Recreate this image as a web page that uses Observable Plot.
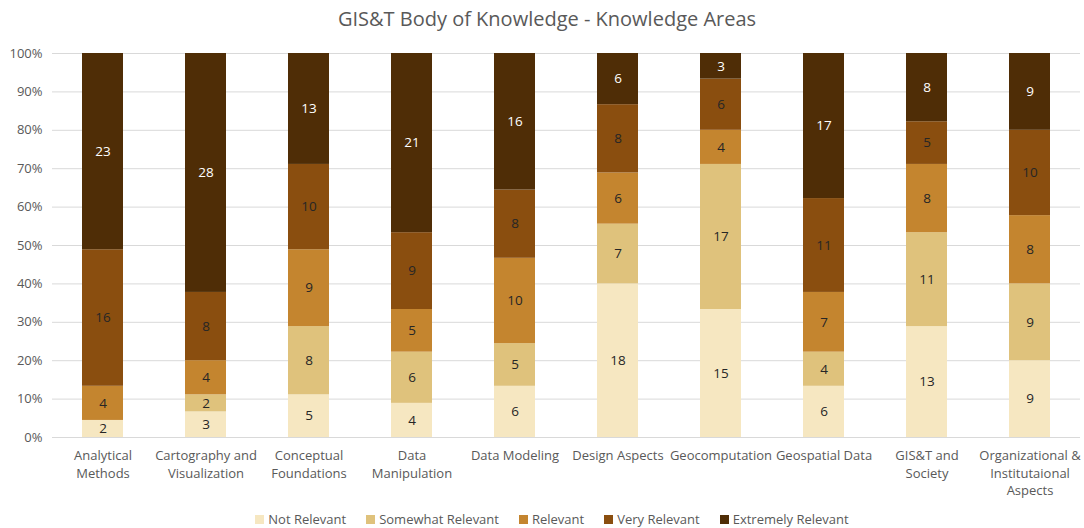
<!DOCTYPE html>
<html>
<head>
<meta charset="utf-8">
<script src="https://cdn.jsdelivr.net/npm/d3@7"></script>
<script src="https://cdn.jsdelivr.net/npm/@observablehq/plot@0.6"></script>
<style>
  html, body { margin: 0; padding: 0; background: #fff; }
  body { width: 1084px; height: 528px; overflow: hidden; font-family: "Open Sans", Lato, sans-serif; }
  #title { height: 40px; line-height: 38px; text-align: center; font-size: 20px; color: #595959; padding-left: 10px; }
  #legend { display: flex; justify-content: center; gap: 20px; font-size: 13px; line-height: 15px; color: #595959; margin-top: 2px; padding-left: 20px; }
  #legend span.sw { display: inline-block; width: 9px; height: 9px; margin-right: 4px; }
  #legend div { display: flex; align-items: center; }
</style>
</head>
<body>
<div id="title">GIS&amp;T Body of Knowledge - Knowledge Areas</div>
<div id="chart"></div>
<div id="legend"></div>
<script>
const categories = [
  "Analytical\nMethods",
  "Cartography and\nVisualization",
  "Conceptual\nFoundations",
  "Data\nManipulation",
  "Data Modeling",
  "Design Aspects",
  "Geocomputation",
  "Geospatial Data",
  "GIS&T and\nSociety",
  "Organizational &\nInstitutaional\nAspects"
];
const seriesNames = ["Not Relevant", "Somewhat Relevant", "Relevant", "Very Relevant", "Extremely Relevant"];
const notRelevant       = [2, 3, 5, 4, 6, 18, 15, 6, 13, 9];
const somewhatRelevant  = [0, 2, 8, 6, 5, 7, 17, 4, 11, 9];
const relevant          = [4, 4, 9, 5, 10, 6, 4, 7, 8, 8];
const veryRelevant      = [16, 8, 10, 9, 8, 8, 6, 11, 5, 10];
const extremelyRelevant = [23, 28, 13, 21, 16, 6, 3, 17, 8, 9];
const colors = ["#F6E7C1", "#DFC27C", "#C4852F", "#8A4E0F", "#4F2D06"];
const yTicks = [0, 0.1, 0.2, 0.3, 0.4, 0.5, 0.6, 0.7, 0.8, 0.9, 1];

const seriesValues = [notRelevant, somewhatRelevant, relevant, veryRelevant, extremelyRelevant];
const data = [];
categories.forEach((c, i) => {
  seriesNames.forEach((s, j) => {
    data.push({category: c, series: s, value: seriesValues[j][i]});
  });
});

const chart = Plot.plot({
  width: 1084,
  height: 470,
  marginTop: 13,
  marginBottom: 73,
  marginLeft: 52,
  marginRight: 4,
  style: {fontFamily: '"Open Sans", Lato, sans-serif', fontSize: "13px", color: "#595959", background: "#fff"},
  x: {domain: categories, paddingInner: 0.6, paddingOuter: 0.29, label: null},
  y: {domain: [0, 1], label: null},
  color: {domain: seriesNames, range: colors},
  marks: [
    Plot.gridY(yTicks, {stroke: "#d9d9d9", strokeOpacity: 1, strokeWidth: 1}),
    Plot.barY(data, Plot.stackY({offset: "normalize", x: "category", y: "value", z: "series", fill: "series", order: seriesNames})),
    Plot.text(data, Plot.stackY({
      offset: "normalize", x: "category", y: "value", z: "series", order: seriesNames,
      text: d => d.value > 0 ? String(d.value) : "",
      fill: d => d.series === "Extremely Relevant" ? "#ffffff" : "#262626",
      fontSize: 13.5
    })),
    Plot.axisY(yTicks, {tickFormat: d => Math.round(d * 100) + "%", tickSize: 0, tickPadding: 10, fontSize: 13, fill: "#595959"}),
    Plot.axisX({tickSize: 0, tickPadding: 10, fontSize: 13, fill: "#595959", lineHeight: 1.35, label: null})
  ]
});
document.getElementById("chart").appendChild(chart);

const legend = document.getElementById("legend");
seriesNames.forEach((s, i) => {
  const item = document.createElement("div");
  const sw = document.createElement("span");
  sw.className = "sw";
  sw.style.background = colors[i];
  item.appendChild(sw);
  item.appendChild(document.createTextNode(s));
  legend.appendChild(item);
});
</script>
</body>
</html>
